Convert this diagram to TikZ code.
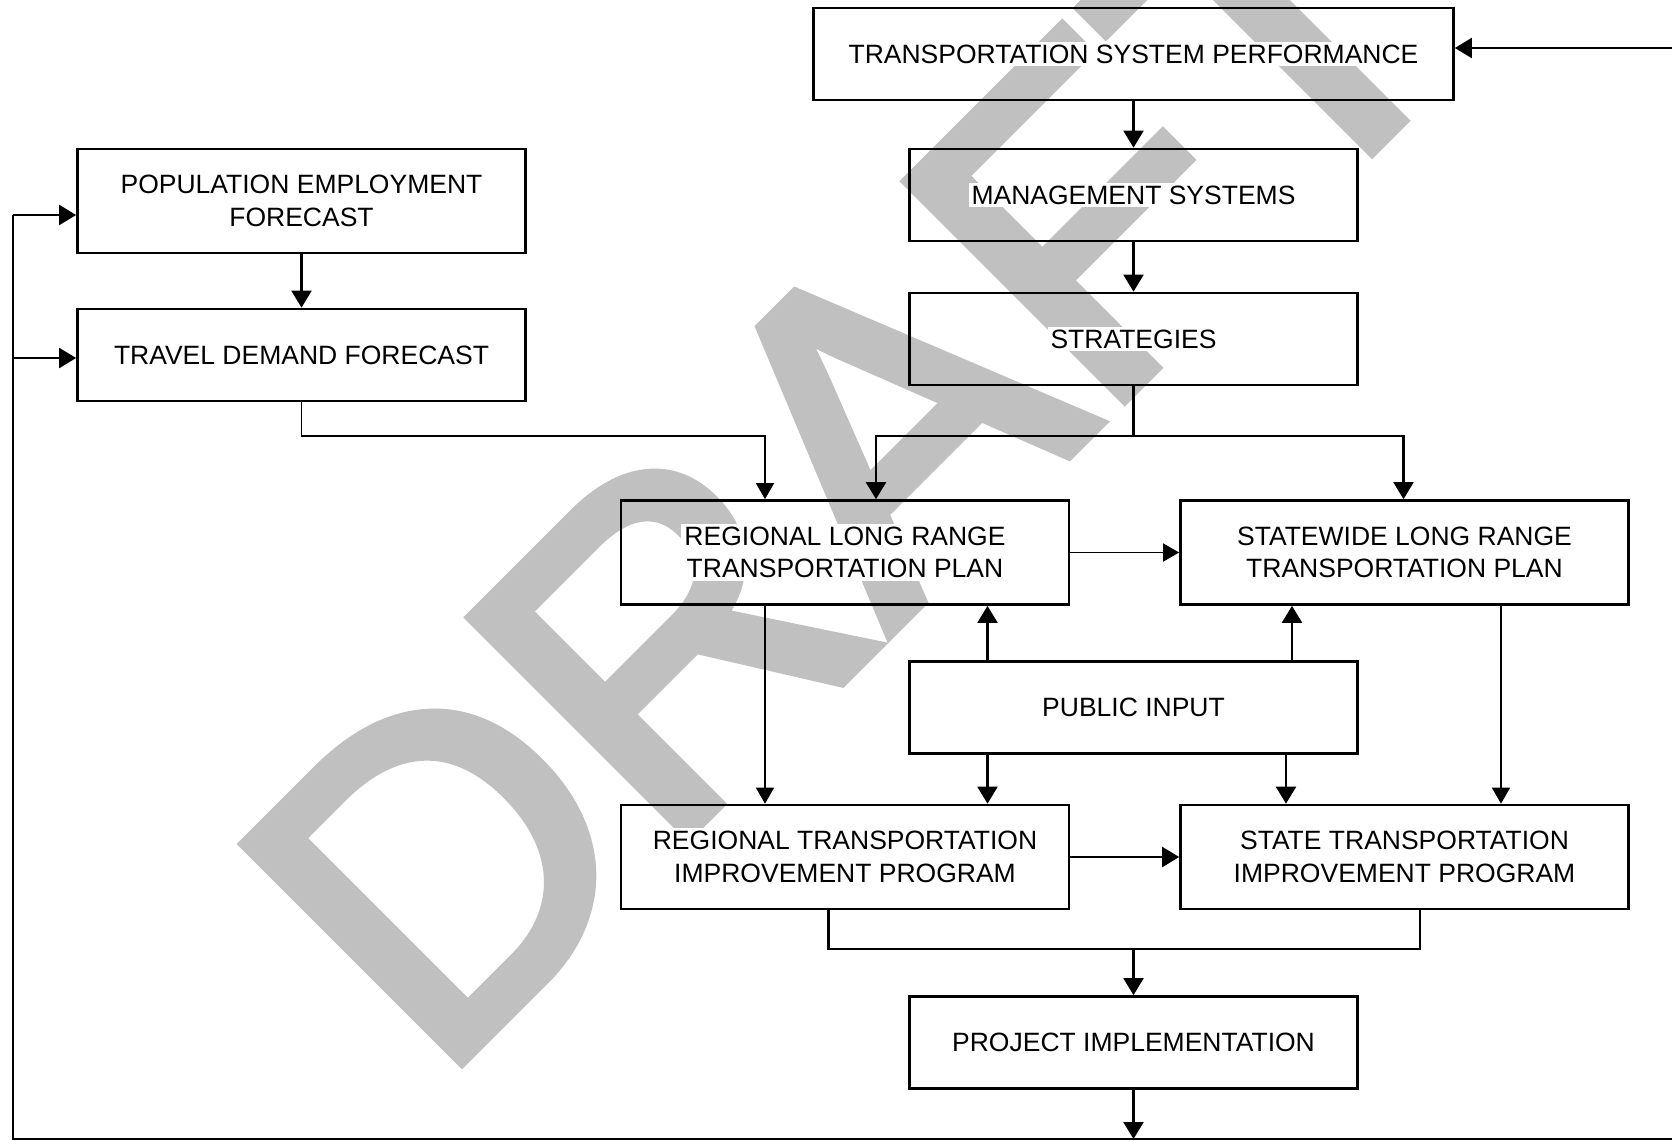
\documentclass[tikz,border=0pt]{standalone}
\usepackage{fontspec}
\setmainfont{Liberation Sans}
\newfontfamily\draftfont[FakeBold=3]{Liberation Sans}
\usetikzlibrary{arrows.meta}
\definecolor{draftgray}{RGB}{192,192,192}
\begin{document}
\begin{tikzpicture}[x=0.5pt,y=-0.5pt]

    \tikzset{
      box/.style={
        draw,
        line width=1.35pt,
        minimum width=224pt,
        minimum height=46pt,
        inner sep=0pt,
      },
      boxtext/.style={
        fill=white,
        inner sep=1.5pt,
        align=center,
        font=\fontsize{13.25}{16.3}\selectfont,
      },
      conn/.style={line width=1.1pt, -{Triangle[length=8.5pt,width=10pt]}},
      thinconn/.style={line width=0.8pt, -{Triangle[length=8pt,width=9pt]}},
      line/.style={line width=1.1pt},
    }
    \clip (0,0) rectangle (1672,1141);
    \node[text=draftgray, font=\draftfont\fontsize{222}{222}\selectfont, rotate=45, anchor=base west, inner sep=0pt] (draft) at (436,1086) {DRAFT};

    \node[box, minimum width=320pt, label={[boxtext]center:TRANSPORTATION SYSTEM PERFORMANCE}] (tsp) at (1133.5,54) {};
    \node[box, label={[boxtext]center:MANAGEMENT SYSTEMS}] (ms) at (1133.5,195) {};
    \node[box, label={[boxtext]center:STRATEGIES}] (str) at (1133.5,339) {};
    \node[box, minimum height=52pt, label={[boxtext]center:{POPULATION EMPLOYMENT\\FORECAST}}] (pop) at (301.5,201) {};
    \node[box, label={[boxtext]center:TRAVEL DEMAND FORECAST}] (tdf) at (301.5,355) {};
    \node[box, minimum height=52pt, label={[boxtext]center:{REGIONAL LONG RANGE\\TRANSPORTATION PLAN}}] (rlr) at (845,552.5) {};
    \node[box, minimum height=52pt, label={[boxtext]center:{STATEWIDE LONG RANGE\\TRANSPORTATION PLAN}}] (slr) at (1404.5,552.5) {};
    \node[box, label={[boxtext]center:PUBLIC INPUT}] (pub) at (1133.5,707.5) {};
    \node[box, minimum height=52pt, label={[boxtext]center:{REGIONAL TRANSPORTATION\\IMPROVEMENT PROGRAM}}] (rtip) at (845,857) {};
    \node[box, minimum height=52pt, label={[boxtext]center:{STATE TRANSPORTATION\\IMPROVEMENT PROGRAM}}] (stip) at (1404.5,857) {};
    \node[box, label={[boxtext]center:PROJECT IMPLEMENTATION}] (pimp) at (1133.5,1042.5) {};

    \coordinate (xa) at (765,0);
    \coordinate (xb) at (876,0);
    \coordinate (xc) at (987.5,0);
    \coordinate (xd) at (1292,0);
    \coordinate (xe) at (1286,0);
    \coordinate (xf) at (1403.5,0);
    \coordinate (xg) at (1501,0);
    \coordinate (xh) at (828.5,0);
    \coordinate (xi) at (1420,0);
    \coordinate (s0) at (1133.5,436);
    \coordinate (j0) at (1133.5,949);
    \coordinate (b0) at (1133.5,1139);
    \coordinate (bl) at (13,1139);
    \coordinate (br) at (1672,1139);
    \coordinate (fp) at (13,215);
    \coordinate (ft) at (13,358);
    \coordinate (tr) at (1672,48);

    \draw[conn] (tsp) -- (ms);
    \draw[conn] (ms) -- (str);
    \draw[line] (str) -- (s0);
    \draw[conn] (s0) -| (xb |- rlr.north);
    \draw[conn] (s0) -| (xf |- slr.north);
    \draw[conn] (pop) -- (tdf);
    \draw[thinconn] (tdf.south) |- (xa |- s0) -- (xa |- rlr.north);
    \draw[thinconn] (rlr.east) -- (slr.west);
    \draw[conn] (xc |- pub.north) -- (xc |- rlr.south);
    \draw[conn] (xd |- pub.north) -- (xd |- slr.south);
    \draw[conn] (xc |- pub.south) -- (xc |- rtip.north);
    \draw[conn] (xe |- pub.south) -- (xe |- stip.north);
    \draw[thinconn] (xa |- rlr.south) -- (xa |- rtip.north);
    \draw[thinconn] (xg |- slr.south) -- (xg |- stip.north);
    \draw[conn] (rtip.east) -- (stip.west);
    \draw[line] (xh |- rtip.south) |- (j0) -| (xi |- stip.south);
    \draw[conn] (j0) -- (pimp);
    \draw[conn] (pimp) -- (b0);
    \draw[line] (br) -- (bl) -- (fp);
    \draw[conn] (fp) -- (fp -| pop.west);
    \draw[conn] (ft) -- (ft -| tdf.west);
    \draw[conn] (tr) -- (tr -| tsp.east);

\end{tikzpicture}
\end{document}
